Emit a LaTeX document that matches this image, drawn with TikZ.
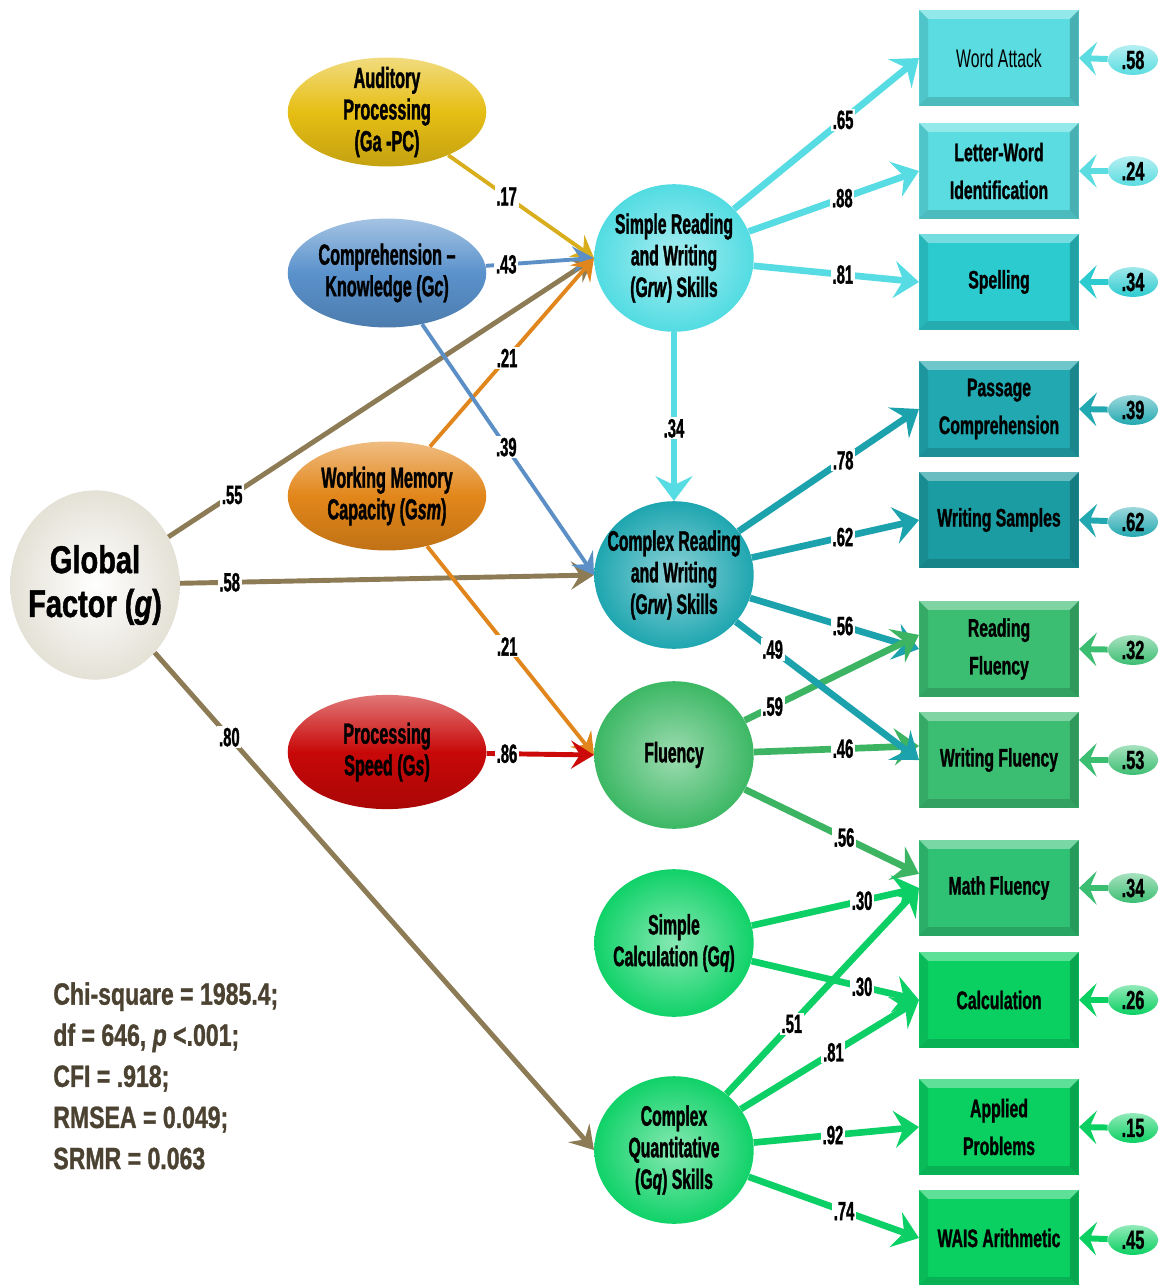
\documentclass[tikz,border=0pt]{standalone}
\usepackage{fontspec}
\setmainfont{Liberation Sans}[FakeStretch=0.56, BoldFeatures={FakeBold=1.2}, BoldItalicFeatures={FakeBold=1.2}]
\newfontfamily\boxfont{Liberation Sans}[FakeStretch=0.62, BoldFeatures={FakeBold=1}]
\newfontfamily\gfont{Liberation Sans}[FakeStretch=0.75, BoldFeatures={FakeBold=1.2}, BoldItalicFeatures={FakeBold=1.2}]
\newfontfamily\statfont{Liberation Sans}[FakeStretch=0.75, BoldFeatures={FakeBold=1}, BoldItalicFeatures={FakeBold=1}]
\usetikzlibrary{arrows.meta,shapes.geometric}
\definecolor{khaki}{HTML}{8C7B55}
\definecolor{cgold}{HTML}{D8AE1C}
\definecolor{cblue}{HTML}{5B8FC6}
\definecolor{corange}{HTML}{E0861C}
\definecolor{cred}{HTML}{CC0A0A}
\definecolor{ccyan}{HTML}{56DCE2}
\definecolor{cteal}{HTML}{1CA2AC}
\definecolor{cgreen}{HTML}{3CB462}
\definecolor{bgreen}{HTML}{0CD066}
\definecolor{stattext}{HTML}{4B4232}
\definecolor{fgold}{HTML}{E6BE14}
\definecolor{fblue}{HTML}{5A92CC}
\definecolor{forange}{HTML}{E2861A}
\definecolor{fred}{HTML}{C80808}
\definecolor{fgbeige}{HTML}{E4E1D6}
\definecolor{bxA}{HTML}{5ADCE0}
\definecolor{bxB}{HTML}{2CCBD0}
\definecolor{bxC}{HTML}{22A8B0}
\definecolor{bxD}{HTML}{1B9CA2}
\definecolor{bxE}{HTML}{3CBE72}
\definecolor{bxF}{HTML}{30C274}
\definecolor{bxG}{HTML}{0AD062}
\definecolor{ciSR}{HTML}{52DCE2}
\definecolor{ciCR}{HTML}{1EA6B0}
\definecolor{ciFL}{HTML}{3CB864}
\definecolor{ciQ}{HTML}{10D268}
\begin{document}
\begin{tikzpicture}[x=0.02cm,y=-0.02cm,
  lat/.style={ellipse, minimum width=113pt, minimum height=62pt, inner xsep=-10pt, inner ysep=-9pt, align=center,
    top color=#1!55!white, bottom color=#1!85!black, middle color=#1,
    font=\fontsize{16.5}{18}\selectfont\bfseries},
  circ/.style={ellipse, minimum width=90.7pt, minimum height=84pt, inner xsep=-30pt, inner ysep=-4pt, align=center,
    inner color=#1!50!white, outer color=#1,
    font=\fontsize{16}{18}\selectfont\bfseries},
  bevel/.style={path picture={
    \coordinate (bNW) at (path picture bounding box.north west);
    \coordinate (bNE) at (path picture bounding box.north east);
    \coordinate (bSW) at (path picture bounding box.south west);
    \coordinate (bSE) at (path picture bounding box.south east);
    \fill[white,opacity=.35] (bNW) -- (bNE) -- ([shift={(-5pt,-5pt)}]bNE) -- ([shift={(5pt,-5pt)}]bNW) -- cycle;
    \fill[black,opacity=.10] (bNW) -- ([shift={(5pt,-5pt)}]bNW) -- ([shift={(5pt,5pt)}]bSW) -- (bSW) -- cycle;
    \fill[black,opacity=.20] (bNE) -- ([shift={(-5pt,-5pt)}]bNE) -- ([shift={(-5pt,5pt)}]bSE) -- (bSE) -- cycle;
    \fill[black,opacity=.15] (bSW) -- (bSE) -- ([shift={(-5pt,5pt)}]bSE) -- ([shift={(5pt,5pt)}]bSW) -- cycle;
  }},
  mbox/.style={rectangle, minimum width=90.7pt, minimum height=54.5pt, inner sep=2pt, align=center,
    fill=#1, bevel, font=\boxfont\fontsize{14.5}{21.5}\selectfont\bfseries},
  err/.style={ellipse, minimum width=28.5pt, minimum height=17pt, inner sep=0pt,
    top color=#1!45!white, bottom color=#1, font=\boxfont\fontsize{15}{16}\selectfont\bfseries},
  lab/.style={fill=white, inner sep=1pt, font=\fontsize{15}{16}\selectfont\bfseries},
  ethin/.style={line width=2.2pt, -{Stealth[length=12pt,width=15pt,inset=4.5pt]}},
  emid/.style={line width=2.8pt, -{Stealth[length=13pt,width=16pt,inset=5pt]}},
  ethick/.style={line width=3.8pt, -{Stealth[length=14pt,width=21pt,inset=5pt]}},
  eerr/.style={line width=3.4pt, -{Stealth[length=10pt,width=19pt,inset=4pt]}}
]
\fill[white] (0,0) rectangle (1166,1285);
\useasboundingbox (0,0) rectangle (1166,1285);

% latent predictors
\node[lat=fgold] (GA) at (387,112) {Auditory\\Processing\\(Ga -PC)};
\node[lat=fblue] (GC) at (387,273) {Comprehension –\\Knowledge (G\textit{c})};
\node[lat=forange] (GSM) at (387,496) {Working Memory\\Capacity (G\textit{sm})};
\node[lat=fred, minimum height=65pt] (GS) at (387,752) {Processing\\Speed (G\textit{s})};
\node[ellipse, minimum width=96.4pt, minimum height=107.7pt, inner xsep=-20pt, inner ysep=0pt, align=center,
  inner color=white, outer color=fgbeige, font=\gfont\fontsize{22}{25}\selectfont\bfseries]
  (G) at (95,585) {Global\\Factor (\textit{g})};

% achievement factors
\node[circ=ciSR] (SR) at (674,258) {Simple Reading\\and Writing\\(G\textit{rw}) Skills};
\node[circ=ciCR] (CR) at (674,575) {Complex Reading\\and Writing\\(G\textit{rw}) Skills};
\node[circ=ciFL] (FL) at (674,755) {Fluency};
\node[circ=ciQ] (SC) at (674,943) {Simple\\Calculation (G\textit{q})};
\node[circ=ciQ] (CQ) at (674,1150) {Complex\\Quantitative\\(G\textit{q}) Skills};

% measured tests
\node[mbox=bxA] (WA) at (999,58) {\mdseries Word Attack};
\node[mbox=bxA] (LW) at (999,171) {Letter-Word\\Identification};
\node[mbox=bxB] (SP) at (999,282) {Spelling};
\node[mbox=bxC] (PC) at (999,409) {Passage\\Comprehension};
\node[mbox=bxD] (WS) at (999,520) {Writing Samples};
\node[mbox=bxE] (RF) at (999,649) {Reading\\Fluency};
\node[mbox=bxE] (WF) at (999,760) {Writing Fluency};
\node[mbox=bxF] (MF) at (999,888) {Math Fluency};
\node[mbox=bxG] (CA) at (999,1000) {Calculation};
\node[mbox=bxG] (APP) at (999,1127) {Applied\\Problems};
\node[mbox=bxG] (WAIS) at (999,1238) {WAIS Arithmetic};

% error terms
\node[err=bxA] (eWA) at (1133,60) {.58};
\node[err=bxA] (eLW) at (1133,171) {.24};
\node[err=bxB] (eSP) at (1133,282) {.34};
\node[err=bxC] (ePC) at (1133,410) {.39};
\node[err=bxC] (eWS) at (1133,522) {.62};
\node[err=bxE] (eRF) at (1133,650) {.32};
\node[err=bxE] (eWF) at (1133,760) {.53};
\node[err=bxE] (eMF) at (1133,888) {.34};
\node[err=bxG] (eCA) at (1133,1000) {.26};
\node[err=bxG] (eAPP) at (1133,1128) {.15};
\node[err=bxG] (eWAIS) at (1133,1240) {.45};

\draw[eerr,draw=bxA] (eWA) -- (WA.east);
\draw[eerr,draw=bxA] (eLW) -- (LW.east);
\draw[eerr,draw=bxB] (eSP) -- (SP.east);
\draw[eerr,draw=bxC] (ePC) -- (PC.east);
\draw[eerr,draw=bxC] (eWS) -- (WS.east);
\draw[eerr,draw=bxE] (eRF) -- (RF.east);
\draw[eerr,draw=bxE] (eWF) -- (WF.east);
\draw[eerr,draw=bxE] (eMF) -- (MF.east);
\draw[eerr,draw=bxG] (eCA) -- (CA.east);
\draw[eerr,draw=bxG] (eAPP) -- (APP.east);
\draw[eerr,draw=bxG] (eWAIS) -- (WAIS.east);

% paths from g
\draw[emid,draw=khaki] (G) -- (SR.west) node[lab,pos=.15] (l1) {.55};
\draw[emid,draw=khaki] (G) -- (CR.west) node[lab,pos=.12] (l2) {.58};
\draw[emid,draw=khaki] (G) -- (CQ.west) node[lab,pos=.17] (l3) {.80};

% paths from broad abilities
\draw[ethin,draw=cgold] (GA) -- (SR.west) node[lab,pos=.4] (l4) {.17};
\draw[ethin,draw=cblue] (GC) -- (SR.west) node[lab,pos=.19] (l5) {.43};
\draw[ethin,draw=corange] (GSM) -- (SR.west) node[lab,pos=.47] (l6) {.21};
\draw[ethin,draw=cblue] (GC) -- (CR.west) node[lab,pos=.49] (l7) {.39};
\draw[ethin,draw=corange] (GSM) -- (FL.west) node[lab,pos=.48] (l8) {.21};
\draw[emid,draw=cred] (GS) -- (FL.west) node[lab,pos=.19] (l9) {.86};

% simple reading
\draw[ethick,draw=ccyan] (SR) -- (CR) node[lab,pos=.57] (l10) {.34};
\draw[ethick,draw=ccyan] (SR) -- (WA.west) node[lab,pos=.59] (l11) {.65};
\draw[ethick,draw=ccyan] (SR) -- (LW.west) node[lab,pos=.55] (l12) {.88};
\draw[ethick,draw=ccyan] (SR) -- (SP.west) node[lab,pos=.54] (l13) {.81};

% complex reading
\draw[ethick,draw=cteal] (CR) -- (PC.west) node[lab,pos=.58] (l14) {.78};
\draw[ethick,draw=cteal] (CR) -- (WS.west) node[lab,pos=.545] (l15) {.62};
\draw[ethick,draw=cteal] (CR) -- (RF.west) node[lab,pos=.55] (l16) {.56};

% fluency
\draw[ethick,draw=cgreen] (FL) -- (RF.170) node[lab,pos=.16] (l17) {.59};
\draw[ethick,draw=cgreen] (FL) -- (WF.170) node[lab,pos=.54] (l18) {.46};
\draw[ethick,draw=cteal] (CR) -- (WF.west) node[lab,pos=.2] (l19) {.49};
\draw[ethick,draw=cgreen] (FL) -- (MF.170) node[lab,pos=.57] (l20) {.56};

% quantitative
\draw[ethick,draw=bgreen] (SC) -- (MF.west) node[lab,pos=.66] (l21) {.30};
\draw[ethick,draw=bgreen] (SC) -- (CA.west) node[lab,pos=.66] (l22) {.30};
\draw[ethick,draw=bgreen] (CQ) -- (MF.west) node[lab,pos=.34] (l23) {.51};
\draw[ethick,draw=bgreen] (CQ) -- (CA.west) node[lab,pos=.52] (l24) {.81};
\draw[ethick,draw=bgreen] (CQ) -- (APP.west) node[lab,pos=.48] (l25) {.92};
\draw[ethick,draw=bgreen] (CQ) -- (WAIS.west) node[lab,pos=.56] (l26) {.74};

% fit statistics
\node[anchor=north west, inner sep=0pt, align=left, text=stattext,
  font=\statfont\fontsize{17.5}{23.4}\selectfont\bfseries] (stats) at (53,982)
  {Chi-square = 1985.4;\\df = 646, \textit{p} <.001;\\CFI = .918;\\RMSEA = 0.049;\\SRMR = 0.063};
\end{tikzpicture}
\end{document}
